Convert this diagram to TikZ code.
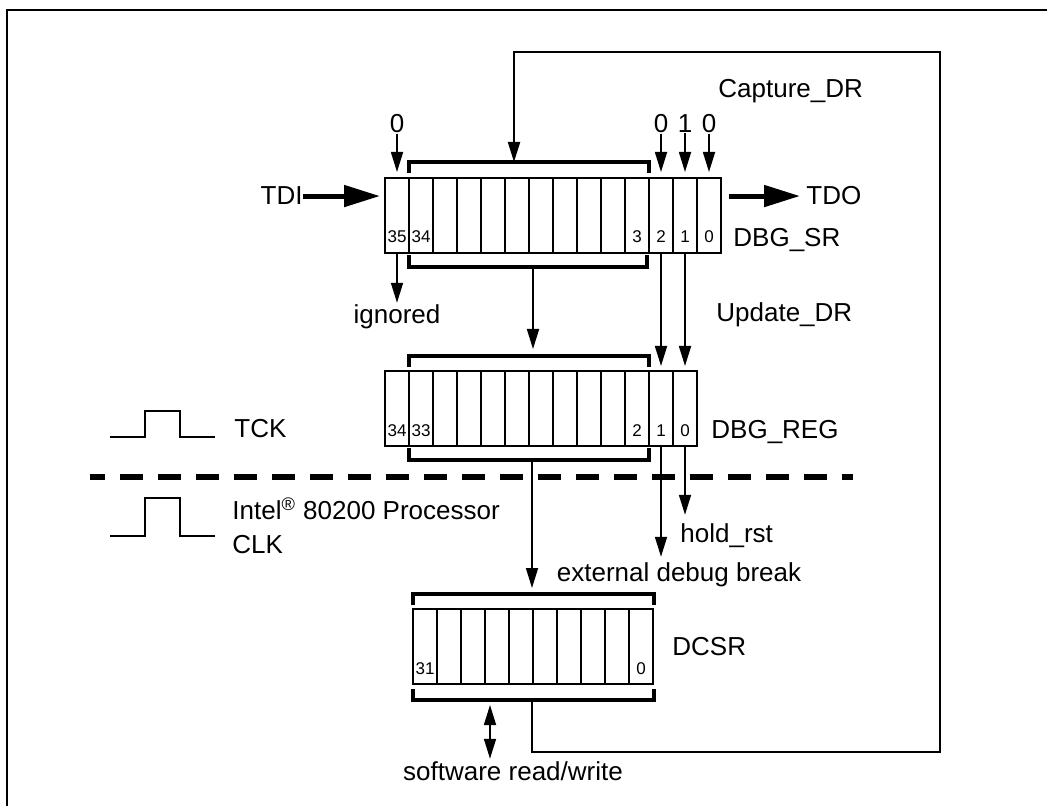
\documentclass[tikz,border=0pt]{standalone}
\usepackage{fontspec}
\setmainfont{Liberation Sans}
\usetikzlibrary{arrows.meta}

\tikzset{
  cell/.style={draw,line width=1pt,minimum width=12pt,inner sep=0pt,text height=32.5pt,text depth=5pt,font=\fontsize{8.5}{9}\selectfont},
  brk/.style={line width=1.6pt},
  lbl/.style={font=\fontsize{13}{15}\selectfont,inner sep=1pt},
  bit/.style={lbl,inner sep=0pt,anchor=base},
  wire/.style={line width=1pt},
  arr/.style={-{Triangle[length=10pt,width=6pt]},line width=.85pt},
  dblarr/.style={{Triangle[length=10pt,width=6pt]}-{Triangle[length=10pt,width=6pt]},line width=.85pt},
  fatarr/.style={-{Triangle[length=18pt,width=10.5pt]},line width=2.5pt},
}

\begin{document}
\begin{tikzpicture}[x=.5pt,y=-.5pt]
\useasboundingbox (0,0) rectangle (1047,806);
\draw[wire] (7,806) -- (7,10) -- (1047,10);

% registers
\foreach \i/\b in {1/35,2/34,3/{},4/{},5/{},6/{},7/{},8/{},9/{},10/{},11/3,12/2,13/1,14/0}
  \node[cell] (sr\i) at ({397+24*(\i-1)},215.5) {\b};
\foreach \i/\b in {1/34,2/33,3/{},4/{},5/{},6/{},7/{},8/{},9/{},10/{},11/2,12/1,13/0}
  \node[cell] (reg\i) at ({397+24*(\i-1)},408.5) {\b};
\foreach \i/\b in {1/31,2/{},3/{},4/{},5/{},6/{},7/{},8/{},9/{},10/0}
  \node[cell] (csr\i) at ({425+24*(\i-1)},646.5) {\b};

% brackets
\foreach \l/\r/\y/\e in {409/649/162/173,409/647/267/255,409/649/356/367,409/649/460/448,413/654/594/605,413/654/700/689}
  \draw[brk] (\l,\e) -- (\l,\y) -- (\r,\y) -- (\r,\e);
\coordinate (srtop) at (514,162);
\coordinate (srbot) at (533,267);
\coordinate (regtop) at (533,356);
\coordinate (regbot) at (532,460);
\coordinate (csrtop) at (532,594);
\coordinate (csrbot) at (532,700);
\coordinate (rw) at (490,705);
\coordinate (loopbr) at (940,752);
\coordinate (looptr) at (940,52);

% labels
\node[lbl,anchor=base west] (capt) at (716,98) {Capture\_DR};
\node[lbl,anchor=base east,inner sep=0pt] (tdi) at (303,205) {TDI};
\node[lbl,anchor=base west,inner sep=0pt] (tdo) at (806,205) {TDO};
\node[lbl,anchor=base west] (srname) at (731,247) {DBG\_SR};
\node[lbl,anchor=base] (ign) at (397,324) {ignored};
\node[lbl,anchor=base west] (upd) at (714,322) {Update\_DR};
\node[lbl,anchor=base west] (regname) at (709,438) {DBG\_REG};
\node[lbl,anchor=base west] (tck) at (232,437) {TCK};
\node[lbl,anchor=base west] (intel) at (230,519) {Intel\textsuperscript{\textregistered} 80200 Processor};
\node[lbl,anchor=base west] (clk) at (230,553) {CLK};
\node[lbl,anchor=base west] (hold) at (678,542) {hold\_rst};
\node[lbl,anchor=base] (ext) at (679,581) {external debug break};
\node[lbl,anchor=base west] (csrname) at (670,655) {DCSR};
\node[lbl,anchor=base] (sw) at (513,780) {software read/write};
\node[bit] (z35) at (397,133) {0};
\node[bit] (z2) at (661,133) {0};
\node[bit] (z1) at (685,133) {1};
\node[bit] (z0) at (709,133) {0};

% clocks
\foreach \lo/\hi in {437/411,536/498}
  \draw[wire] (110,\lo) -- (145,\lo) -- (145,\hi) -- (180,\hi) -- (180,\lo) -- (215,\lo);
\draw[line width=3.25pt,dash pattern=on 11.5pt off 7.5pt,dash phase=4pt] (90,477) -- (853,477);

% data paths
\draw[fatarr,shorten >=2pt] (tdi.east) -- (tdi.east -| sr1.west);
\draw[fatarr,shorten <=3.5pt,shorten >=3pt] (tdo.west -| sr14.east) -- (tdo.west);
\foreach \z/\c in {z35/sr1,z2/sr12,z1/sr13,z0/sr14}
  \draw[arr,shorten >=2.5pt] (\z) -- (\c);
\draw[arr] (sr1) -- (ign);
\draw[arr,shorten >=3.5pt] (srbot) -- (regtop);
\draw[arr,shorten >=2pt] (sr12) -- (reg12);
\draw[arr,shorten >=2pt] (sr13) -- (reg13);
\draw[arr,shorten >=1.5pt] (reg12) -- (reg12 |- ext.north);
\draw[arr,shorten >=3pt] (reg13) -- (reg13 |- hold.north);
\draw[arr,shorten >=3pt] (regbot) -- (csrtop);
\draw[dblarr] (rw) -- (rw |- sw.north);
\draw[wire,arr,line width=1pt] (csrbot) |- (loopbr) -- (looptr) -| (srtop);
\end{tikzpicture}
\end{document}
